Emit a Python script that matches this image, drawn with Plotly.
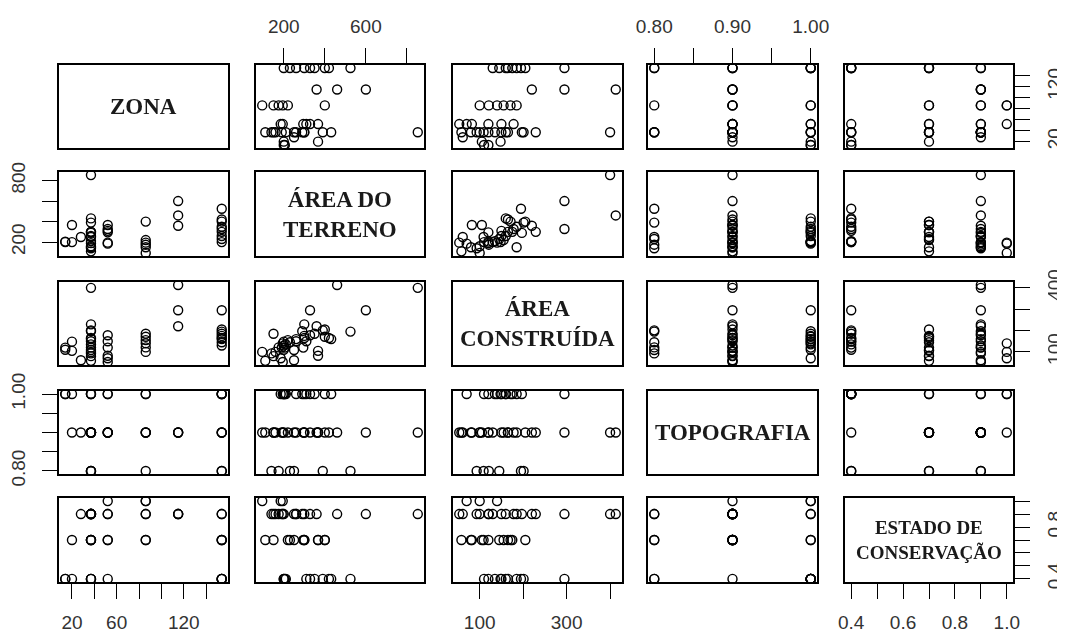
import plotly.graph_objects as go

# ---- data (one entry per observation) ----
ZONA = [14, 14, 20, 20, 28, 37, 37, 37, 37, 37, 37, 37, 37, 37, 37, 37, 37, 37, 37,
        52, 52, 52, 52, 52, 52, 86, 86, 86, 86, 86, 86, 115, 115, 115,
        154, 154, 154, 154, 154, 154, 154, 154, 154]
AREA_TERRENO = [200, 205, 200, 367, 250, 853, 140, 250, 390, 110, 160, 190, 210, 260, 300, 290, 300, 431, 150,
                185, 195, 295, 310, 328, 367, 95, 195, 400, 175, 150, 220, 600, 460, 360,
                525, 328, 230, 200, 260, 300, 350, 400, 420]
AREA_CONSTRUIDA = [110, 120, 148, 105, 61, 400, 93, 109, 201, 58, 100, 120, 135, 150, 165, 197, 229, 160, 80,
                   70, 53, 120, 150, 178, 82, 100, 140, 171, 121, 185, 155, 295, 413, 220,
                   195, 295, 145, 130, 160, 175, 185, 205, 165]
TOPOGRAFIA = [1.0, 1.0, 1.0, 0.9, 0.9, 0.9, 0.8, 0.8, 0.8, 0.9, 0.9, 0.9, 1.0, 0.9, 0.9, 1.0, 0.9, 1.0, 0.9,
              1.0, 0.9, 0.9, 1.0, 0.9, 0.9, 0.9, 1.0, 1.0, 0.8, 0.9, 0.9, 0.9, 0.9, 0.9,
              0.8, 1.0, 0.8, 0.9, 1.0, 1.0, 1.0, 0.9, 0.9]
ESTADO = [0.4, 0.4, 0.4, 0.7, 0.9, 0.9, 0.9, 0.7, 0.4, 0.7, 0.9, 0.9, 0.4, 0.9, 0.7, 0.9, 0.9, 0.4, 0.7,
          1.0, 0.9, 0.7, 0.4, 0.9, 0.7, 1.0, 1.0, 0.7, 0.9, 0.9, 0.7, 0.9, 0.9, 0.9,
          0.4, 0.4, 0.7, 0.9, 0.9, 0.7, 0.4, 0.7, 0.4]

VAR_NAMES = ["ZONA", "ÁREA DO<br>TERRENO", "ÁREA<br>CONSTRUÍDA", "TOPOGRAFIA", "ESTADO DE<br>CONSERVAÇÃO"]

# tick values and the labels R kept (x-axis side / y-axis side)
ZONA_TICKS = [20, 40, 60, 80, 100, 120, 140]
ZONA_XLAB = ["20", "", "60", "", "", "120", ""]
ZONA_YLAB = ["20", "", "", "", "", "120", ""]
AT_TICKS = [200, 400, 600, 800]
AT_XLAB = ["200", "", "600", ""]
AT_YLAB = ["200", "", "", "800"]
AC_TICKS = [100, 200, 300, 400]
AC_XLAB = ["100", "", "300", ""]
AC_YLAB = ["100", "", "", "400"]
TOPO_TICKS = [0.80, 0.85, 0.90, 0.95, 1.00]
TOPO_XLAB = ["0.80", "", "0.90", "", "1.00"]
TOPO_YLAB = ["0.80", "", "", "", "1.00"]
EST_TICKS = [0.4, 0.5, 0.6, 0.7, 0.8, 0.9, 1.0]
EST_XLAB = ["0.4", "", "0.6", "", "0.8", "", "1.0"]
EST_YLAB = ["0.4", "", "", "", "0.8", "", ""]

variables = [ZONA, AREA_TERRENO, AREA_CONSTRUIDA, TOPOGRAFIA, ESTADO]
ticks = [ZONA_TICKS, AT_TICKS, AC_TICKS, TOPO_TICKS, EST_TICKS]
xlabs = [ZONA_XLAB, AT_XLAB, AC_XLAB, TOPO_XLAB, EST_XLAB]
ylabs = [ZONA_YLAB, AT_YLAB, AC_YLAB, TOPO_YLAB, EST_YLAB]
label_sizes = [23, 23, 23, 23, 19]

# page is offset by the 8px body margin, so the figure is 8px smaller
OFF = 8
W, H = 1065 - OFF, 633 - OFF
COLS = [(59, 228), (256, 424), (453, 622), (648, 817), (845, 1013)]
ROWS = [(65, 148), (172, 256), (282, 365), (391, 474), (498, 582)]


def rng(v):
    lo, hi = min(v), max(v)
    d = hi - lo
    return [lo - 0.04 * d, hi + 0.04 * d]


def fx(px):
    return (px - OFF) / W


def fy(px):
    return 1 - (px - OFF) / H


ranges = [rng(v) for v in variables]

fig = go.Figure()
layout = {}
tickfont = dict(family="Liberation Sans, Arial, sans-serif", size=19, color="#333333")
annotations = []

for i in range(5):
    for j in range(5):
        idx = i * 5 + j + 1
        sfx = "" if idx == 1 else str(idx)
        xa = dict(domain=[fx(COLS[j][0]), fx(COLS[j][1])], range=ranges[j],
                  anchor="y" + sfx, showline=True, mirror=True, linecolor="black",
                  linewidth=1.8, showgrid=False, zeroline=False, fixedrange=True,
                  automargin=False)
        ya = dict(domain=[fy(ROWS[i][1]), fy(ROWS[i][0])], range=ranges[i],
                  anchor="x" + sfx, showline=True, mirror=True, linecolor="black",
                  linewidth=1.8, showgrid=False, zeroline=False, fixedrange=True,
                  automargin=False)
        # x axis ticks: top for even columns (2,4), bottom for odd columns (1,3,5)
        if (i == 0 and j % 2 == 1) or (i == 4 and j % 2 == 0):
            xa.update(side="top" if i == 0 else "bottom", ticks="outside", ticklen=15,
                      tickwidth=1.4, tickcolor="black", tickvals=ticks[j], ticktext=xlabs[j],
                      showticklabels=True, tickfont=tickfont,
                      ticklabelstandoff=8 if i == 0 else 7)
        else:
            xa.update(ticks="", showticklabels=False)
        # y axis ticks: left for rows 2,4 ; right for rows 1,3,5
        if (j == 0 and i % 2 == 1) or (j == 4 and i % 2 == 0):
            ya.update(side="left" if j == 0 else "right", ticks="outside", ticklen=15,
                      tickwidth=1.4, tickcolor="black", tickvals=ticks[i], ticktext=ylabs[i],
                      showticklabels=True, tickfont=tickfont, tickangle=-90,
                      ticklabelstandoff=10 if j == 0 else 8)
        else:
            ya.update(ticks="", showticklabels=False)
        layout["xaxis" + sfx] = xa
        layout["yaxis" + sfx] = ya

        if i == j:
            # invisible trace so the panel box is drawn
            fig.add_trace(go.Scatter(
                x=variables[j], y=variables[i], mode="markers",
                xaxis="x" + sfx, yaxis="y" + sfx, opacity=0,
                showlegend=False, hoverinfo="skip"))
            annotations.append(dict(
                x=fx((COLS[j][0] + COLS[j][1]) / 2),
                y=fy((ROWS[i][0] + ROWS[i][1]) / 2),
                xref="paper", yref="paper", showarrow=False,
                text="<b>" + VAR_NAMES[i] + "</b>",
                font=dict(family="Liberation Serif, Times New Roman, serif",
                          size=label_sizes[i], color="#1a1a1a"),
                xanchor="center", yanchor="middle", align="center"))
        else:
            fig.add_trace(go.Scatter(
                x=variables[j], y=variables[i], mode="markers",
                xaxis="x" + sfx, yaxis="y" + sfx,
                marker=dict(symbol="circle-open", size=9, color="black",
                            line=dict(width=1.4, color="black")),
                showlegend=False, hoverinfo="skip"))

fig.update_layout(**layout)
fig.update_layout(width=W, height=H, margin=dict(l=0, r=0, t=0, b=0),
                  paper_bgcolor="white", plot_bgcolor="white",
                  annotations=annotations, showlegend=False)

fig.write_html("out.html")
